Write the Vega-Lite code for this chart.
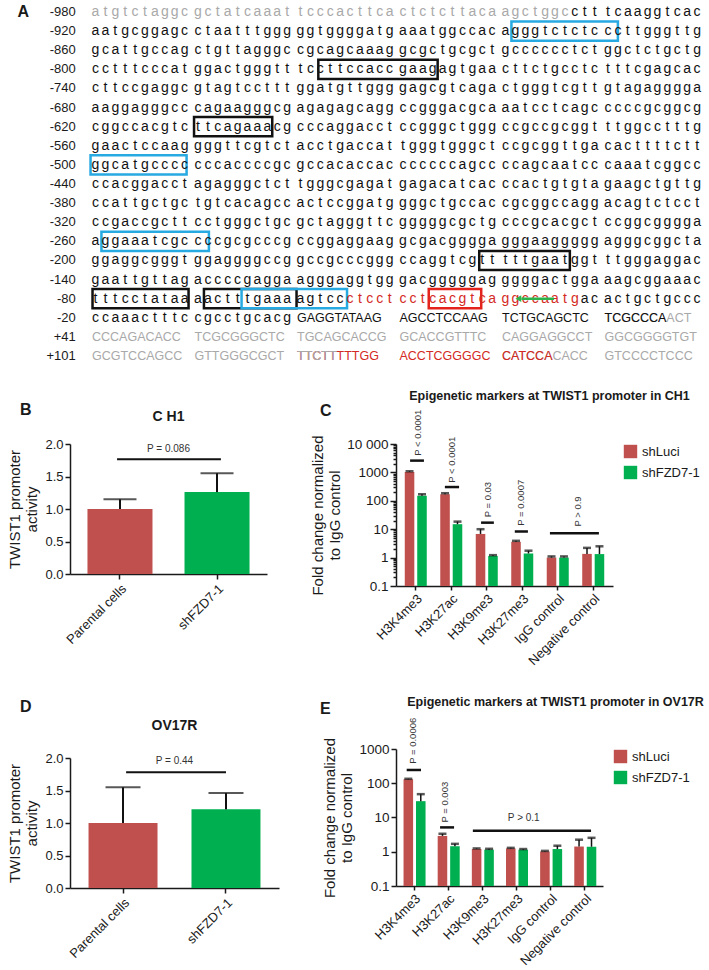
{
 "$schema": "https://vega.github.io/schema/vega-lite/v6.json",
 "background": "white",
 "padding": {"left": 7, "top": 0, "right": 0, "bottom": 0},
 "config": {
  "font": "Liberation Sans",
  "view": {"stroke": "transparent"},
  "axis": {"grid": false, "domainColor": "#1a1a1a", "tickColor": "#1a1a1a", "labelColor": "#1a1a1a", "titleColor": "#1a1a1a", "domainWidth": 1.5, "tickWidth": 1.5, "titleFontWeight": "normal", "labelFont": "Liberation Sans", "titleFont": "Liberation Sans"},
  "title": {"font": "Liberation Sans", "color": "#1a1a1a", "fontWeight": "bold"},
  "legend": {"labelFont": "Liberation Sans"}
 },
 "bounds": "flush",
 "spacing": 77,
 "resolve": {"scale": {"color": "independent"}},
 "vconcat": [
  {
   "width": 641, "height": 366,
   "layer": [
    {
     "data": {"values": [
      {"r":"-800","c1":22.8,"c2":34.5,"k":"black"},
      {"r":"-620","c1":10.6,"c2":18.5,"k":"black"},
      {"r":"-200","c1":38.7,"c2":47.5,"k":"black"},
      {"r":"-80","c1":0.7,"c2":10.4,"k":"black"},
      {"r":"-80","c1":11.6,"c2":20.6,"k":"black"},
      {"r":"-920","c1":41.6,"c2":52.0,"k":"blue"},
      {"r":"-500","c1":0.5,"c2":10.2,"k":"blue"},
      {"r":"-260","c1":1.6,"c2":12.1,"k":"blue"},
      {"r":"-80","c1":15.4,"c2":25.7,"k":"blue"},
      {"r":"-80","c1":33.6,"c2":38.9,"k":"red"}
     ]},
     "mark": {"type": "rect", "filled": false, "strokeWidth": 2.5},
     "encoding": {
      "x": {"field": "c1", "type": "quantitative", "scale": {"domain": [-7, 10.5, 10.51, 20.5, 20.51, 30.5, 30.51, 40.5, 40.51, 50.5, 50.51, 62], "range": [-53.7, 119.55, 123.15, 222.05, 225.65, 324.55, 328.15, 427.05, 430.65, 529.55, 533.15, 646.9], "nice": false, "zero": false}, "axis": null},
      "x2": {"field": "c2"},
      "y": {"field": "r", "type": "ordinal", "scale": {"type": "band", "domain": ["-980","-920","-860","-800","-740","-680","-620","-560","-500","-440","-380","-320","-260","-200","-140","-80","-20","+41","+101"], "paddingInner": 0, "paddingOuter": 0.076}, "axis": null},
      "stroke": {"field": "k", "type": "nominal", "scale": {"domain": ["black","blue","red"], "range": ["#111111","#27a9e1","#e3231c"]}, "legend": null}
     }
    },
    {
     "data": {"values": [
      {"r":"-980","k":"g","s":["a","t","g","t","c","t","a","g","g","c","g","c","t","a","t","c","a","a","a","t","t","c","c","c","a","c","t","t","c","a","c","t","c","t","c","t","t","a","c","a","a","g","c","t","g","g","c"]},
      {"r":"-980","k":"k","s":["c","t","t","t","c","a","a","g","g","t","c","a","c"]},
      {"r":"-920","k":"k","s":["a","a","t","g","c","g","g","a","g","c","c","t","a","a","t","t","t","g","g","g","g","g","t","g","g","g","g","a","t","g","a","a","a","t","g","g","c","c","a","c","a","g","g","g","t","c","t","c","t","c","c","c","t","t","g","g","g","t","t","g"]},
      {"r":"-860","k":"k","s":["g","c","a","t","t","g","c","c","a","g","c","t","g","t","t","a","g","g","g","c","c","g","c","a","g","c","a","a","a","g","g","c","g","c","t","g","c","g","c","t","g","c","c","c","c","c","c","t","c","t","g","g","c","t","c","t","g","c","t","g"]},
      {"r":"-800","k":"k","s":["c","c","t","t","t","c","c","c","a","t","g","g","a","c","t","g","g","g","t","t","t","c","c","t","t","c","c","a","c","c","g","a","a","g","a","g","t","g","a","a","c","t","t","c","t","g","c","c","t","c","t","t","t","c","g","a","g","c","a","c"]},
      {"r":"-740","k":"k","s":["c","t","t","c","c","g","a","g","g","c","g","t","a","g","t","c","c","t","t","t","g","g","a","t","g","t","t","g","g","g","g","a","g","c","g","t","c","a","g","a","c","t","g","g","g","t","c","g","t","t","g","t","a","g","a","g","g","g","g","a"]},
      {"r":"-680","k":"k","s":["a","a","g","g","a","g","g","g","c","c","c","a","g","a","a","g","g","g","c","g","a","g","a","g","a","g","c","a","g","g","c","c","g","g","g","a","c","g","c","a","a","a","t","c","c","t","c","a","g","c","c","c","c","c","g","c","g","g","c","g"]},
      {"r":"-620","k":"k","s":["c","g","g","c","c","a","c","g","t","c","t","t","c","a","g","a","a","a","c","g","c","c","c","a","g","g","a","c","c","t","c","c","g","g","g","c","t","g","g","g","c","c","g","c","c","g","c","g","g","t","t","t","g","g","c","c","t","t","t","g"]},
      {"r":"-560","k":"k","s":["g","a","a","c","t","c","c","a","a","g","g","g","g","t","t","c","g","t","c","t","a","c","c","t","g","a","c","c","a","t","t","g","g","g","t","g","g","g","c","t","c","c","g","c","g","g","t","t","g","a","c","a","c","t","t","t","t","c","t","t"]},
      {"r":"-500","k":"k","s":["g","g","c","a","t","g","c","c","c","c","c","c","c","a","c","c","c","c","g","c","g","c","c","a","c","a","c","c","a","c","c","c","c","c","c","c","a","g","c","c","c","c","a","g","c","a","a","t","c","c","c","a","a","a","t","c","g","g","c","c"]},
      {"r":"-440","k":"k","s":["c","c","a","c","g","g","a","c","c","t","a","g","a","g","g","g","c","t","c","t","t","g","g","g","c","g","a","g","a","t","g","a","g","a","c","a","t","c","a","c","c","c","a","c","t","g","t","g","t","a","g","a","a","g","c","t","g","t","t","g"]},
      {"r":"-380","k":"k","s":["c","c","a","t","t","g","c","t","g","c","t","g","t","c","a","c","a","g","c","c","a","c","t","c","c","g","g","a","t","g","g","g","g","c","t","g","c","c","a","c","c","g","c","g","g","c","c","a","g","g","a","c","a","g","t","c","t","c","c","t"]},
      {"r":"-320","k":"k","s":["c","c","g","a","c","c","g","c","t","t","c","c","t","g","g","g","c","t","g","c","g","c","t","a","g","g","g","t","t","c","g","g","g","g","g","c","g","c","t","g","c","c","c","g","c","a","c","g","c","t","c","c","g","g","c","g","g","g","g","a"]},
      {"r":"-260","k":"k","s":["a","g","g","a","a","a","t","c","g","c","c","c","c","g","c","g","c","c","c","g","c","c","g","g","a","g","g","a","a","g","g","c","g","a","c","g","g","g","g","a","g","g","g","a","a","g","g","g","g","g","a","g","g","g","c","g","g","c","t","a"]},
      {"r":"-200","k":"k","s":["g","g","a","g","g","c","g","g","g","t","g","g","a","g","g","g","g","c","c","g","g","c","c","g","c","c","c","g","g","g","c","c","a","g","g","t","c","g","t","t","t","t","t","g","a","a","t","g","g","t","t","t","g","g","g","a","g","g","a","c"]},
      {"r":"-140","k":"k","s":["g","a","a","t","t","g","t","t","a","g","a","c","c","c","c","g","a","g","g","a","a","g","g","g","a","g","g","t","g","g","g","a","c","g","g","g","g","g","a","g","g","g","g","g","a","c","t","g","g","a","a","a","g","c","g","g","a","a","a","c"]},
      {"r":"-80","k":"k","s":["t","t","t","c","c","t","a","t","a","a","a","a","c","t","t","t","g","a","a","a","a","g","t","c","c"]},
      {"r":"-80","k":"r","s":["c","t","c","c","t","c","c","t","c","a","c","g","t","c","a","g","g","c","c","a","a","t","g"]},
      {"r":"-80","k":"k","s":["a","c","a","c","t","g","c","t","g","c","c","c"]},
      {"r":"-20","k":"k","s":["c","c","a","a","a","c","t","t","t","c","c","g","c","c","t","g","c","a","c","g"]}
     ]},
     "transform": [
      {"flatten": ["s"]},
      {"window": [{"op": "row_number", "as": "col"}], "groupby": ["r"]}
     ],
     "mark": {"type": "text", "fontSize": 14, "align": "center", "baseline": "middle"},
     "encoding": {
      "x": {"field": "col", "type": "quantitative"},
      "y": {"field": "r", "type": "ordinal"},
      "text": {"field": "s", "type": "nominal"},
      "color": {"field": "k", "type": "nominal", "scale": {"domain": ["g","k","r"], "range": ["#a9a9a9","#111111","#d42a24"]}, "legend": null}
     }
    },
    {
     "data": {"values": [
      {"r":"-20","c":21,"t":"GAGGTATAAG","k":"k"},
      {"r":"-20","c":31,"t":"AGCCTCCAAG","k":"k"},
      {"r":"-20","c":41,"t":"TCTGCAGCTC","k":"k"},
      {"r":"-20","c":51,"t":"TCGCCCAACT","k":"g"},
      {"r":"+41","c":1,"t":"CCCAGACACC","k":"g"},
      {"r":"+41","c":11,"t":"TCGCGGGCTC","k":"g"},
      {"r":"+41","c":21,"t":"TGCAGCACCG","k":"g"},
      {"r":"+41","c":31,"t":"GCACCGTTTC","k":"g"},
      {"r":"+41","c":41,"t":"CAGGAGGCCT","k":"g"},
      {"r":"+41","c":51,"t":"GGCGGGGTGT","k":"g"},
      {"r":"+101","c":1,"t":"GCGTCCAGCC","k":"g"},
      {"r":"+101","c":11,"t":"GTTGGGCGCT","k":"g"},
      {"r":"+101","c":21,"t":"TTCTTTTTGG","k":"r"},
      {"r":"+101","c":31,"t":"ACCTCGGGGC","k":"r"},
      {"r":"+101","c":41,"t":"CATCCACACC","k":"g"},
      {"r":"+101","c":51,"t":"GTCCCCTCCC","k":"g"},
      {"r":"-20","c":51,"t":"TCGCCCA","k":"k"},
      {"r":"+101","c":21,"t":"TTCTT","k":"g"},
      {"r":"+101","c":41,"t":"CATCCA","k":"r"}
     ]},
     "mark": {"type": "text", "fontSize": 12.5, "align": "left", "baseline": "middle", "dx": -3.5},
     "encoding": {
      "x": {"field": "c", "type": "quantitative"},
      "y": {"field": "r", "type": "ordinal"},
      "text": {"field": "t", "type": "nominal"},
      "color": {"field": "k", "type": "nominal", "legend": null}
     }
    },
    {
     "data": {"values": [
      {"r":"-980"},{"r":"-920"},{"r":"-860"},{"r":"-800"},{"r":"-740"},{"r":"-680"},{"r":"-620"},{"r":"-560"},{"r":"-500"},{"r":"-440"},{"r":"-380"},{"r":"-320"},{"r":"-260"},{"r":"-200"},{"r":"-140"},{"r":"-80"},{"r":"-20"},{"r":"+41"},{"r":"+101"}
     ]},
     "mark": {"type": "text", "fontSize": 13, "align": "right", "baseline": "middle", "color": "#1a1a1a"},
     "encoding": {
      "x": {"datum": -1.0},
      "y": {"field": "r", "type": "ordinal"},
      "text": {"field": "r", "type": "nominal"}
     }
    },
    {
     "data": {"values": [{"r": "-980", "lab": "A"}]},
     "mark": {"type": "text", "fontSize": 16, "fontWeight": "bold", "align": "center", "baseline": "middle", "color": "#1a1a1a"},
     "encoding": {
      "x": {"datum": -6.3},
      "y": {"field": "r", "type": "ordinal"},
      "text": {"field": "lab", "type": "nominal"}
     }
    },
    {
     "data": {"values": [{"r": "-80", "c1": 42.6, "c2": 45.9}]},
     "mark": {"type": "rule", "color": "#2cb24b", "strokeWidth": 2.5},
     "encoding": {
      "x": {"field": "c1", "type": "quantitative"},
      "x2": {"field": "c2"},
      "y": {"field": "r", "type": "ordinal"}
     }
    },
    {
     "data": {"values": [{"r": "-80", "c1": 42.3}]},
     "mark": {"type": "point", "shape": "triangle-left", "filled": true, "size": 45, "color": "#2cb24b", "opacity": 1},
     "encoding": {
      "x": {"field": "c1", "type": "quantitative"},
      "y": {"field": "r", "type": "ordinal"}
     }
    }
   ]
  },
  {
   "bounds": "flush",
   "spacing": 326,
   "resolve": {"scale": {"color": "independent"}},
   "hconcat": [
    {
     "bounds": "flush",
     "spacing": 314,
     "resolve": {"scale": {"color": "independent"}},
     "vconcat": [
      {
       "bounds": "flush",
       "resolve": {"scale": {"color": "independent"}},
       "title": {"text": "B", "anchor": "start", "frame": "group", "dx": -50, "dy": 12, "fontSize": 16},
       "vconcat": [
        {
         "width": 197, "height": 130,
         "title": {"text": "C H1", "fontSize": 14, "offset": 14, "frame": "group"},
         "data": {"values": [{"cond": "Parental cells", "v": 1.0, "hi": 1.15}, {"cond": "shFZD7-1", "v": 1.26, "hi": 1.55}]},
         "layer": [
          {"mark": {"type": "bar"}, "encoding": {
            "x": {"field": "cond", "type": "nominal", "scale": {"domain": ["Parental cells", "shFZD7-1"], "paddingInner": 0.33, "paddingOuter": 0.18}, "axis": {"title": null, "labelAngle": -45, "labelFontSize": 13, "tickSize": 5, "labelPadding": 3}},
            "y": {"field": "v", "type": "quantitative", "scale": {"domain": [0, 2], "nice": false}, "title": ["TWIST1 promoter", "activity"], "axis": {"tickCount": 4, "format": ".1f", "labelOverlap": false, "labelSeparation": 0, "labelFontSize": 13, "titleFontSize": 15, "tickSize": 5, "titlePadding": 5, "titleLineHeight": 17}},
            "color": {"field": "cond", "type": "nominal", "scale": {"domain": ["Parental cells", "shFZD7-1"], "range": ["#c0504d", "#00b050"]}, "legend": null}}},
          {"mark": {"type": "rule", "color": "#111111", "strokeWidth": 2}, "encoding": {
            "x": {"field": "cond", "type": "nominal", "scale": {"domain": ["Parental cells", "shFZD7-1"], "paddingInner": 0.33, "paddingOuter": 0.18}, "axis": null},
            "y": {"field": "v", "type": "quantitative", "axis": null},
            "y2": {"field": "hi"}}},
          {"mark": {"type": "tick", "color": "#111111", "thickness": 2, "size": 33}, "encoding": {
            "x": {"field": "cond", "type": "nominal", "scale": {"domain": ["Parental cells", "shFZD7-1"], "paddingInner": 0.33, "paddingOuter": 0.18}, "axis": null},
            "y": {"field": "hi", "type": "quantitative", "axis": null}}},
          {
           "data": {"values": [{"v1": -0.03, "v2": 1.04, "y": 1.765}]},
           "mark": {"type": "rule", "color": "#111111", "strokeWidth": 2},
           "encoding": {
            "x": {"field": "v1", "type": "quantitative", "scale": {"domain": [-0.515, 1.515], "nice": false, "zero": false}, "axis": null},
            "x2": {"field": "v2"},
            "y": {"field": "y", "type": "quantitative", "axis": null}
           }
          },
          {
           "data": {"values": [{"v": 0.5, "y": 1.92, "lab": "P = 0.086"}]},
           "mark": {"type": "text", "fontSize": 10, "color": "#333333", "align": "center", "baseline": "middle"},
           "encoding": {
            "x": {"field": "v", "type": "quantitative", "scale": {"domain": [-0.515, 1.515], "nice": false, "zero": false}, "axis": null},
            "y": {"field": "y", "type": "quantitative", "axis": null},
            "text": {"field": "lab", "type": "nominal"}
           }
          }
         ],
         "resolve": {"scale": {"x": "independent"}, "axis": {"y": "independent"}}
        }
       ]
      },
      {
       "bounds": "flush",
       "resolve": {"scale": {"color": "independent"}},
       "title": {"text": "D", "anchor": "start", "frame": "group", "dx": -50, "dy": 0, "fontSize": 16},
       "vconcat": [
        {
         "width": 209, "height": 130,
         "title": {"text": "OV17R", "fontSize": 14, "offset": 19, "frame": "group"},
         "data": {"values": [{"cond": "Parental cells", "v": 1.0, "hi": 1.55}, {"cond": "shFZD7-1", "v": 1.21, "hi": 1.46}]},
         "layer": [
          {"mark": {"type": "bar"}, "encoding": {
            "x": {"field": "cond", "type": "nominal", "scale": {"domain": ["Parental cells", "shFZD7-1"], "paddingInner": 0.33, "paddingOuter": 0.18}, "axis": {"title": null, "labelAngle": -45, "labelFontSize": 13, "tickSize": 5, "labelPadding": 3}},
            "y": {"field": "v", "type": "quantitative", "scale": {"domain": [0, 2], "nice": false}, "title": ["TWIST1 promoter", "activity"], "axis": {"tickCount": 4, "format": ".1f", "labelOverlap": false, "labelSeparation": 0, "labelFontSize": 13, "titleFontSize": 15, "tickSize": 5, "titlePadding": 5, "titleLineHeight": 17}},
            "color": {"field": "cond", "type": "nominal", "scale": {"domain": ["Parental cells", "shFZD7-1"], "range": ["#c0504d", "#00b050"]}, "legend": null}}},
          {"mark": {"type": "rule", "color": "#111111", "strokeWidth": 2}, "encoding": {
            "x": {"field": "cond", "type": "nominal", "scale": {"domain": ["Parental cells", "shFZD7-1"], "paddingInner": 0.33, "paddingOuter": 0.18}, "axis": null},
            "y": {"field": "v", "type": "quantitative", "axis": null},
            "y2": {"field": "hi"}}},
          {"mark": {"type": "tick", "color": "#111111", "thickness": 2, "size": 35}, "encoding": {
            "x": {"field": "cond", "type": "nominal", "scale": {"domain": ["Parental cells", "shFZD7-1"], "paddingInner": 0.33, "paddingOuter": 0.18}, "axis": null},
            "y": {"field": "hi", "type": "quantitative", "axis": null}}},
          {
           "data": {"values": [{"v1": 0.03, "v2": 1.0, "y": 1.78}]},
           "mark": {"type": "rule", "color": "#111111", "strokeWidth": 2},
           "encoding": {
            "x": {"field": "v1", "type": "quantitative", "scale": {"domain": [-0.515, 1.515], "nice": false, "zero": false}, "axis": null},
            "x2": {"field": "v2"},
            "y": {"field": "y", "type": "quantitative", "axis": null}
           }
          },
          {
           "data": {"values": [{"v": 0.5, "y": 1.95, "lab": "P = 0.44"}]},
           "mark": {"type": "text", "fontSize": 10, "color": "#333333", "align": "center", "baseline": "middle"},
           "encoding": {
            "x": {"field": "v", "type": "quantitative", "scale": {"domain": [-0.515, 1.515], "nice": false, "zero": false}, "axis": null},
            "y": {"field": "y", "type": "quantitative", "axis": null},
            "text": {"field": "lab", "type": "nominal"}
           }
          }
         ],
         "resolve": {"scale": {"x": "independent"}, "axis": {"y": "independent"}}
        }
       ]
      }
     ]
    },
    {
     "bounds": "flush",
     "spacing": 305,
     "resolve": {"scale": {"color": "independent"}},
     "vconcat": [
      {
       "bounds": "flush",
       "resolve": {"scale": {"color": "independent"}},
       "title": {"text": "C", "anchor": "start", "frame": "group", "dx": -76, "dy": 33, "fontSize": 16},
       "vconcat": [
        {
         "width": 217, "height": 142,
         "title": {"text": "Epigenetic markers at TWIST1 promoter in CH1", "fontSize": 12.5, "offset": 7, "frame": "group", "dx": 45},
         "data": {"values": [
            {"m":"H3K4me3","g":"shLuci","v":1040,"hi":1100},
            {"m":"H3K4me3","g":"shFZD7-1","v":150,"hi":170},
            {"m":"H3K27ac","g":"shLuci","v":170,"hi":185},
            {"m":"H3K27ac","g":"shFZD7-1","v":15,"hi":18.5},
            {"m":"H3K9me3","g":"shLuci","v":6.8,"hi":10},
            {"m":"H3K9me3","g":"shFZD7-1","v":1.15,"hi":1.22},
            {"m":"H3K27me3","g":"shLuci","v":3.6,"hi":3.9},
            {"m":"H3K27me3","g":"shFZD7-1","v":1.4,"hi":1.75},
            {"m":"IgG control","g":"shLuci","v":1.0,"hi":1.1},
            {"m":"IgG control","g":"shFZD7-1","v":1.0,"hi":1.1},
            {"m":"Negative control","g":"shLuci","v":1.35,"hi":2.2},
            {"m":"Negative control","g":"shFZD7-1","v":1.33,"hi":2.5}
         ]},
         "layer": [
          {"mark": {"type": "bar"}, "encoding": {
            "x": {"field": "m", "type": "nominal", "scale": {"domain": ["H3K4me3","H3K27ac","H3K9me3","H3K27me3","IgG control","Negative control"], "paddingInner": 0.38, "paddingOuter": 0.247}, "axis": {"title": null, "labelAngle": -45, "labelFontSize": 13, "tickSize": 4, "labelPadding": 2}},
            "xOffset": {"field": "g", "type": "nominal", "scale": {"domain": ["shLuci","shFZD7-1"], "paddingInner": 0.234, "paddingOuter": 0}},
            "y": {"field": "v", "type": "quantitative", "scale": {"type": "log", "domain": [0.1, 10000], "nice": false}, "title": ["Fold change normalized", "to IgG control"],
                  "axis": {"values": [0.1,0.2,0.3,0.4,0.5,0.6,0.7,0.8,0.9,1,2,3,4,5,6,7,8,9,10,20,30,40,50,60,70,80,90,100,200,300,400,500,600,700,800,900,1000,2000,3000,4000,5000,6000,7000,8000,9000,10000],
                           "format": "~g", "labelExpr": "datum.value == 10000 ? '10 000' : (indexof([0.1,1,10,100,1000], datum.value) >= 0 ? datum.label : '')",
                           "tickSize": {"condition": {"test": "indexof([0.1,1,10,100,1000,10000], datum.value) >= 0", "value": 6}, "value": 3},
                           "labelOverlap": false, "labelBound": false, "labelFontSize": 13.5, "titleFontSize": 15, "titleLineHeight": 17, "titlePadding": 4, "labelPadding": 2}},
            "y2": {"datum": 0.1},
            "color": {"field": "g", "type": "nominal", "scale": {"domain": ["shLuci","shFZD7-1"], "range": ["#c0504d","#00b050"]},
              "legend": {"title": null, "orient": "right", "offset": 10, "labelFontSize": 13, "symbolType": "square", "symbolSize": 180, "rowPadding": 6, "labelColor": "#1a1a1a"}}}},
          {"mark": {"type": "rule", "color": "#111111", "strokeWidth": 1.5}, "encoding": {
            "x": {"field": "m", "type": "nominal", "scale": {"domain": ["H3K4me3","H3K27ac","H3K9me3","H3K27me3","IgG control","Negative control"], "paddingInner": 0.38, "paddingOuter": 0.247}, "axis": null},
            "xOffset": {"field": "g", "type": "nominal"},
            "y": {"field": "v", "type": "quantitative", "axis": null},
            "y2": {"field": "hi"}}},
          {"mark": {"type": "tick", "color": "#111111", "thickness": 2.5, "size": 8}, "encoding": {
            "x": {"field": "m", "type": "nominal", "scale": {"domain": ["H3K4me3","H3K27ac","H3K9me3","H3K27me3","IgG control","Negative control"], "paddingInner": 0.38, "paddingOuter": 0.247}, "axis": null},
            "xOffset": {"field": "g", "type": "nominal"},
            "y": {"field": "hi", "type": "quantitative", "axis": null}}},
          {
           "data": {"values": [
            {"v1": -0.16, "v2": 0.23, "y": 2600},
            {"v1": 0.82, "v2": 1.22, "y": 305},
            {"v1": 1.84, "v2": 2.2, "y": 17},
            {"v1": 2.79, "v2": 3.16, "y": 8.3},
            {"v1": 3.78, "v2": 5.16, "y": 7.2}
           ]},
           "mark": {"type": "rule", "color": "#111111", "strokeWidth": 2.5},
           "encoding": {
            "x": {"field": "v1", "type": "quantitative", "scale": {"domain": [-0.557, 5.557], "nice": false, "zero": false}, "axis": null},
            "x2": {"field": "v2"},
            "y": {"field": "y", "type": "quantitative", "axis": null}
           }
          },
          {
           "data": {"values": [
            {"v": 0.06, "y": 25000, "lab": "P < 0.0001"},
            {"v": 1.02, "y": 2800, "lab": "P < 0.0001"},
            {"v": 2.03, "y": 110, "lab": "P = 0.03"},
            {"v": 2.96, "y": 85, "lab": "P = 0.0007"},
            {"v": 4.56, "y": 42, "lab": "P > 0.9"}
           ]},
           "mark": {"type": "text", "angle": 270, "fontSize": 9.5, "color": "#333333", "align": "center", "baseline": "middle"},
           "encoding": {
            "x": {"field": "v", "type": "quantitative", "scale": {"domain": [-0.557, 5.557], "nice": false, "zero": false}, "axis": null},
            "y": {"field": "y", "type": "quantitative", "axis": null},
            "text": {"field": "lab", "type": "nominal"}
           }
          }
         ],
         "resolve": {"scale": {"x": "independent"}, "axis": {"y": "independent"}}
        }
       ]
      },
      {
       "bounds": "flush",
       "resolve": {"scale": {"color": "independent"}},
       "title": {"text": "E", "anchor": "start", "frame": "group", "dx": -76, "dy": 25, "fontSize": 16},
       "vconcat": [
        {
         "width": 207, "height": 137,
         "title": {"text": "Epigenetic markers at TWIST1 promoter in OV17R", "fontSize": 12.5, "offset": 9, "frame": "group", "dx": 56},
         "data": {"values": [
            {"m":"H3K4me3","g":"shLuci","v":130,"hi":135},
            {"m":"H3K4me3","g":"shFZD7-1","v":30,"hi":48},
            {"m":"H3K27ac","g":"shLuci","v":2.9,"hi":3.35},
            {"m":"H3K27ac","g":"shFZD7-1","v":1.45,"hi":1.7},
            {"m":"H3K9me3","g":"shLuci","v":1.2,"hi":1.25},
            {"m":"H3K9me3","g":"shFZD7-1","v":1.15,"hi":1.22},
            {"m":"H3K27me3","g":"shLuci","v":1.25,"hi":1.3},
            {"m":"H3K27me3","g":"shFZD7-1","v":1.15,"hi":1.2},
            {"m":"IgG control","g":"shLuci","v":1.02,"hi":1.06},
            {"m":"IgG control","g":"shFZD7-1","v":1.2,"hi":1.5},
            {"m":"Negative control","g":"shLuci","v":1.42,"hi":2.25},
            {"m":"Negative control","g":"shFZD7-1","v":1.4,"hi":2.55}
         ]},
         "layer": [
          {"mark": {"type": "bar"}, "encoding": {
            "x": {"field": "m", "type": "nominal", "scale": {"domain": ["H3K4me3","H3K27ac","H3K9me3","H3K27me3","IgG control","Negative control"], "paddingInner": 0.38, "paddingOuter": 0.221}, "axis": {"title": null, "labelAngle": -45, "labelFontSize": 13, "tickSize": 4, "labelPadding": 2}},
            "xOffset": {"field": "g", "type": "nominal", "scale": {"domain": ["shLuci","shFZD7-1"], "paddingInner": 0.3, "paddingOuter": 0}},
            "y": {"field": "v", "type": "quantitative", "scale": {"type": "log", "domain": [0.1, 1000], "nice": false}, "title": ["Fold change normalized", "to IgG control"],
                  "axis": {"values": [0.1, 1, 10, 100, 1000], "format": "~g", "labelOverlap": false, "labelFontSize": 13.5, "titleFontSize": 15, "titleLineHeight": 17, "titlePadding": 4, "tickSize": 5, "labelPadding": 2}},
            "y2": {"datum": 0.1},
            "color": {"field": "g", "type": "nominal", "scale": {"domain": ["shLuci","shFZD7-1"], "range": ["#c0504d","#00b050"]},
              "legend": {"title": null, "orient": "right", "offset": 10, "labelFontSize": 13, "symbolType": "square", "symbolSize": 180, "rowPadding": 6, "labelColor": "#1a1a1a"}}}},
          {"mark": {"type": "rule", "color": "#111111", "strokeWidth": 1.5}, "encoding": {
            "x": {"field": "m", "type": "nominal", "scale": {"domain": ["H3K4me3","H3K27ac","H3K9me3","H3K27me3","IgG control","Negative control"], "paddingInner": 0.38, "paddingOuter": 0.221}, "axis": null},
            "xOffset": {"field": "g", "type": "nominal"},
            "y": {"field": "v", "type": "quantitative", "axis": null},
            "y2": {"field": "hi"}}},
          {"mark": {"type": "tick", "color": "#111111", "thickness": 2.5, "size": 8}, "encoding": {
            "x": {"field": "m", "type": "nominal", "scale": {"domain": ["H3K4me3","H3K27ac","H3K9me3","H3K27me3","IgG control","Negative control"], "paddingInner": 0.38, "paddingOuter": 0.221}, "axis": null},
            "xOffset": {"field": "g", "type": "nominal"},
            "y": {"field": "hi", "type": "quantitative", "axis": null}}},
          {
           "data": {"values": [
            {"v1": -0.217, "v2": 0.202, "y": 244},
            {"v1": 0.76, "v2": 1.17, "y": 5.14},
            {"v1": 1.72, "v2": 5.18, "y": 4.12}
           ]},
           "mark": {"type": "rule", "color": "#111111", "strokeWidth": 2.5},
           "encoding": {
            "x": {"field": "v1", "type": "quantitative", "scale": {"domain": [-0.53, 5.53], "nice": false, "zero": false}, "axis": null},
            "x2": {"field": "v2"},
            "y": {"field": "y", "type": "quantitative", "axis": null}
           }
          },
          {
           "data": {"values": [
            {"v": -0.02, "y": 1740, "lab": "P = 0.0006"},
            {"v": 0.91, "y": 28, "lab": "P = 0.003"}
           ]},
           "mark": {"type": "text", "angle": 270, "fontSize": 9.5, "color": "#333333", "align": "center", "baseline": "middle"},
           "encoding": {
            "x": {"field": "v", "type": "quantitative", "scale": {"domain": [-0.53, 5.53], "nice": false, "zero": false}, "axis": null},
            "y": {"field": "y", "type": "quantitative", "axis": null},
            "text": {"field": "lab", "type": "nominal"}
           }
          },
          {
           "data": {"values": [{"v": 3.21, "y": 9.4, "lab": "P > 0.1"}]},
           "mark": {"type": "text", "fontSize": 10, "color": "#333333", "align": "center", "baseline": "middle"},
           "encoding": {
            "x": {"field": "v", "type": "quantitative", "scale": {"domain": [-0.53, 5.53], "nice": false, "zero": false}, "axis": null},
            "y": {"field": "y", "type": "quantitative", "axis": null},
            "text": {"field": "lab", "type": "nominal"}
           }
          }
         ],
         "resolve": {"scale": {"x": "independent"}, "axis": {"y": "independent"}}
        }
       ]
      }
     ]
    }
   ]
  }
 ]
}
